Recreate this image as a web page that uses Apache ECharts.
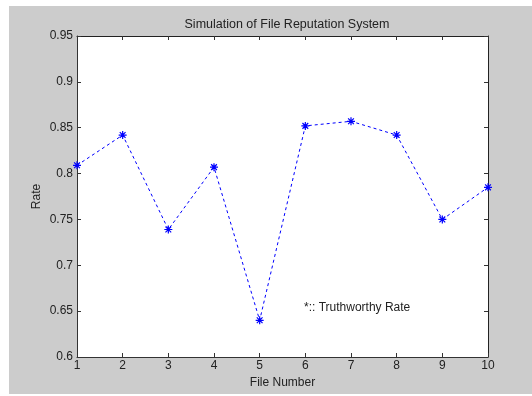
<!DOCTYPE html>
<html>
<head>
<meta charset="utf-8">
<script src="https://cdn.jsdelivr.net/npm/echarts@6/dist/echarts.min.js"></script>
<style>
  html, body { margin: 0; padding: 0; background: #fff; }
  #main { width: 532px; height: 396px; }
</style>
</head>
<body>
<div id="main"></div>
<script>
// 数据
var fileNumbers = [1, 2, 3, 4, 5, 6, 7, 8, 9, 10];
var rates = [0.809, 0.842, 0.739, 0.807, 0.640, 0.852, 0.857, 0.842, 0.750, 0.785];
var yTicks = [0.6, 0.65, 0.7, 0.75, 0.8, 0.85, 0.9, 0.95];

var points = fileNumbers.map(function (x, i) {
    return [x, rates[i]];
});

var font = 'Liberation Sans, Arial, sans-serif';
var starPath = 'path://M0,-5L0,5M-5,0L5,0M-3.6,-3.6L3.6,3.6M-3.6,3.6L3.6,-3.6';

var myChart = echarts.init(document.getElementById('main'));

var option = {
    backgroundColor: '#fff',
    animation: false,
    title: {
        text: 'Simulation of File Reputation System',
        left: 282,
        top: 13,
        textAlign: 'center',
        textStyle: { fontFamily: font, fontSize: 12.5, fontWeight: 'normal', color: '#222' }
    },
    graphic: [
        // 灰色背景
        {
            type: 'rect',
            z: -10,
            shape: { x: 9, y: 6, width: 523, height: 388 },
            style: { fill: '#cccccc' }
        },
        {
            type: 'text',
            left: 304,
            top: 302,
            style: { text: '*:: Truthworthy Rate', fontFamily: font, fontSize: 12, fill: '#222' }
        }
    ],
    grid: {
        left: 77,
        top: 36,
        right: 44,
        bottom: 39,
        show: true,
        backgroundColor: '#fff',
        borderWidth: 0
    },
    xAxis: [{
        type: 'value',
        min: 1,
        max: 10,
        interval: 1,
        name: 'File Number',
        nameLocation: 'middle',
        nameGap: 20,
        nameMoveOverlap: false,
        nameTextStyle: { fontFamily: font, fontSize: 12, color: '#222' },
        axisLine: { lineStyle: { color: '#333', width: 1 } },
        axisTick: { inside: true, length: 4, lineStyle: { color: '#333' } },
        axisLabel: { fontFamily: font, fontSize: 12, color: '#222', margin: 3 },
        splitLine: { show: false }
    }, {
        type: 'value',
        position: 'top',
        min: 1,
        max: 10,
        interval: 1,
        axisLine: { lineStyle: { color: '#222', width: 1 } },
        axisTick: { inside: true, length: 4, lineStyle: { color: '#333' } },
        axisLabel: { show: false },
        splitLine: { show: false }
    }],
    yAxis: [{
        type: 'value',
        min: 0.6,
        max: 0.95,
        interval: 0.05,
        name: 'Rate',
        nameLocation: 'middle',
        nameGap: 34,
        nameMoveOverlap: false,
        nameTextStyle: { fontFamily: font, fontSize: 12, color: '#222' },
        axisLine: { show: true, lineStyle: { color: '#333', width: 1 } },
        axisTick: { show: true, inside: true, length: 4, lineStyle: { color: '#333' } },
        axisLabel: {
            fontFamily: font, fontSize: 12, color: '#222', margin: 4,
            formatter: function (v) {
                return String(parseFloat(v.toFixed(2)));
            }
        },
        splitLine: { show: false }
    }, {
        type: 'value',
        position: 'right',
        min: 0.6,
        max: 0.95,
        interval: 0.05,
        axisLine: { show: true, lineStyle: { color: '#222', width: 1 } },
        axisTick: { show: true, inside: true, length: 4, lineStyle: { color: '#333' } },
        axisLabel: { show: false },
        splitLine: { show: false }
    }],
    series: [{
        type: 'line',
        data: points,
        xAxisIndex: 0,
        yAxisIndex: 0,
        symbol: starPath,
        symbolSize: 8,
        showAllSymbol: true,
        itemStyle: { color: '#0000ff', borderColor: '#0000ff', borderWidth: 1.2 },
        lineStyle: { color: '#0000ff', width: 1, type: [3, 3] }
    }]
};
myChart.setOption(option);
</script>
</body>
</html>
